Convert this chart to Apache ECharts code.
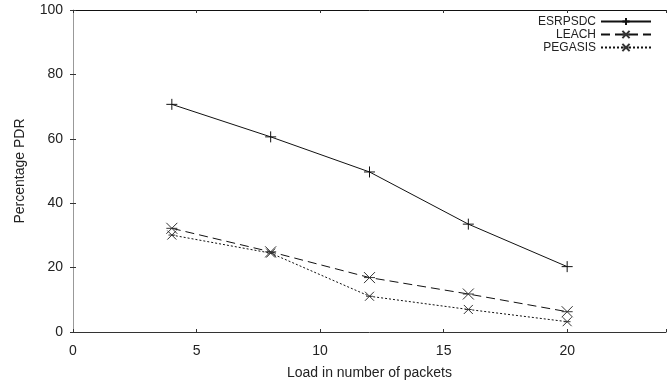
<!DOCTYPE html>
<html>
<head>
<meta charset="utf-8">
<script src="https://cdn.jsdelivr.net/npm/echarts@6/dist/echarts.min.js"></script>
<style>
html,body{margin:0;padding:0;background:#fff;}
#chart{width:669px;height:387px;}
</style>
</head>
<body>
<div id="chart"></div>
<script>
const xValues = [4, 8, 12, 16, 20];
const esrpsdc = [70.7, 60.6, 49.7, 33.5, 20.3];
const leach = [32.2, 24.9, 16.9, 11.8, 6.3];
const pegasis = [30.1, 24.5, 11.1, 7.0, 3.2];
const seriesNames = ['ESRPSDC', 'LEACH', 'PEGASIS'];
const xTicks = [0, 5, 10, 15, 20];
const yTicks = [0, 20, 40, 60, 80, 100];

const pair = (xs, ys) => xs.map((x, i) => [x, ys[i]]);
const tickFont = '"Liberation Sans Narrow", "Liberation Sans", sans-serif';

const plusSym = 'path://M0,5L10,5M5,0L5,10';
const xSym = 'path://M0,0L10,10M10,0L0,10M0,5L10,5';
const starSym = 'path://M1,1L9,9M9,1L1,9M2,5L8,5';

const chart = echarts.init(document.getElementById('chart'), null, {renderer: 'canvas'});
chart.setOption({
  animation: false,
  backgroundColor: '#fff',
  grid: {left: 73, right: 1, top: 10, bottom: 55, containLabel: false},
  legend: {
    orient: 'vertical',
    right: 17,
    top: 15,
    padding: 0,
    align: 'right',
    itemWidth: 50,
    itemHeight: 9,
    itemGap: 0,
    textStyle: {fontFamily: 'Liberation Sans, Arial, sans-serif', fontSize: 12, color: '#222', lineHeight: 13},
    data: seriesNames
  },
  xAxis: [{
    type: 'value', min: 0, max: 24, interval: 5,
    name: 'Load in number of packets', nameLocation: 'middle', nameGap: 34,
    nameTextStyle: {fontFamily: 'Liberation Sans, Arial, sans-serif', fontSize: 14, color: '#222'},
    axisLine: {show: true, onZero: false, lineStyle: {color: '#333', width: 1}},
    axisTick: {show: true, inside: true, length: 3, lineStyle: {color: '#333'}},
    axisLabel: {margin: 12, fontFamily: tickFont, fontSize: 14, color: '#222',
      formatter: v => xTicks.includes(v) ? String(v) : ''},
    splitLine: {show: false}
  }, {
    type: 'value', position: 'top', min: 0, max: 24, interval: 5,
    axisLine: {show: true, onZero: false, lineStyle: {color: '#111', width: 1}},
    axisTick: {show: true, inside: true, length: 3, lineStyle: {color: '#333'}},
    axisLabel: {show: false}, splitLine: {show: false}
  }],
  yAxis: [{
    type: 'value', min: 0, max: 100, interval: 20,
    name: 'Percentage PDR', nameLocation: 'middle', nameGap: 46, nameRotate: 90,
    nameTextStyle: {fontFamily: 'Liberation Sans, Arial, sans-serif', fontSize: 14, color: '#222'},
    axisLine: {show: true, onZero: false, lineStyle: {color: '#999', width: 1}},
    axisTick: {show: true, inside: true, length: 3, lineStyle: {color: '#333'}},
    axisLabel: {margin: 10, fontFamily: tickFont, fontSize: 14, color: '#222',
      formatter: v => yTicks.includes(v) ? String(v) : ''},
    splitLine: {show: false}
  }, {
    type: 'value', position: 'right', min: 0, max: 100, interval: 20,
    axisLine: {show: false},
    axisTick: {show: true, inside: true, length: 3, lineStyle: {color: '#333'}},
    axisLabel: {show: false}, splitLine: {show: false}
  }],
  series: [{
    name: seriesNames[0], type: 'line', data: pair(xValues, esrpsdc),
    symbol: plusSym, symbolSize: 11, showAllSymbol: true,
    lineStyle: {color: '#111', width: 1, type: 'solid'},
    itemStyle: {color: '#111', borderColor: '#111', borderWidth: 1}
  }, {
    name: seriesNames[1], type: 'line', data: pair(xValues, leach),
    symbol: xSym, symbolSize: 11,
    lineStyle: {color: '#111', width: 1, type: [9, 5]},
    itemStyle: {color: '#333', borderColor: '#333', borderWidth: 1}
  }, {
    name: seriesNames[2], type: 'line', data: pair(xValues, pegasis),
    symbol: starSym, symbolSize: 9,
    lineStyle: {color: '#111', width: 1, type: [2, 2]},
    itemStyle: {color: '#333', borderColor: '#333', borderWidth: 1}
  }]
});
</script>
</body>
</html>
